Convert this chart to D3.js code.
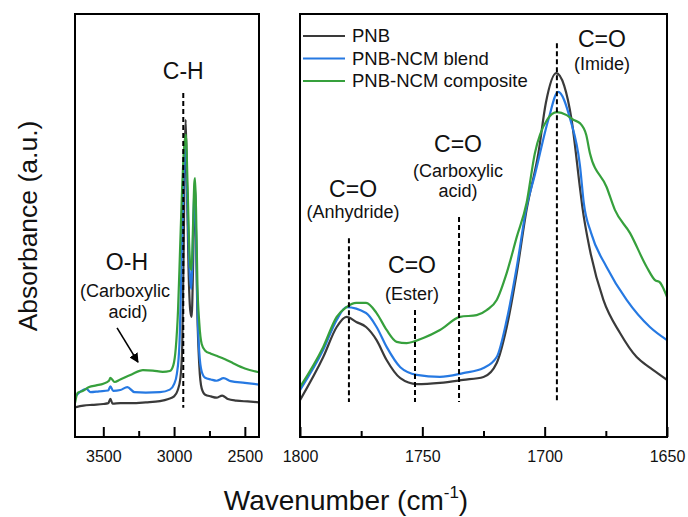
<!DOCTYPE html>
<html>
<head>
<meta charset="utf-8">
<script src="https://cdn.jsdelivr.net/npm/d3@7"></script>
<style>
  body { margin: 0; background: #fff; }
  svg { font-family: 'Liberation Sans', Arial, sans-serif; }
</style>
</head>
<body>
<svg width="688" height="517"></svg>
<script>
'use strict'

const seriesNames = ['PNB', 'PNB-NCM blend', 'PNB-NCM composite']
const seriesColors = ['#3a3a3a', '#2679e2', '#36a03c']

// [wavenumber, absorbance (a.u.)], high wavenumber window
const pnbHigh = [[3700, 7.0], [3640, 7.4], [3580, 7.6], [3500, 7.8], [3465, 8.0], [3450, 9.0], [3435, 7.9], [3380, 8.0], [3300, 8.0], [3200, 8.2], [3100, 8.5], [3040, 9.0], [3000, 9.6], [2975, 11], [2955, 14], [2942, 22], [2932, 45], [2924, 68], [2918, 75], [2910, 62], [2898, 40], [2886, 30], [2876, 28.4], [2866, 40], [2858, 55], [2853, 60], [2846, 50], [2836, 30], [2822, 17], [2805, 11.5], [2780, 10], [2740, 9.6], [2700, 9.3], [2660, 9.8], [2620, 9.0], [2560, 8.6], [2480, 8.4], [2400, 8.2]]
const blendHigh = [[3700, 9.5], [3660, 10.8], [3620, 11.4], [3590, 10.6], [3530, 10.8], [3465, 11], [3450, 12], [3430, 10.9], [3380, 11.1], [3330, 11.8], [3280, 10.6], [3200, 10.5], [3100, 10.6], [3030, 11.2], [3000, 12.5], [2980, 15], [2962, 22], [2948, 40], [2935, 58], [2925, 68], [2917, 70], [2908, 58], [2896, 44], [2886, 37], [2878, 35], [2868, 45], [2858, 57], [2853, 59.5], [2846, 50], [2836, 32], [2822, 20], [2805, 15.5], [2780, 14], [2740, 13.6], [2700, 13.3], [2650, 13.9], [2600, 13.2], [2500, 12.8], [2400, 12.4]]
const compositeHigh = [[3700, 8.0], [3680, 10.5], [3650, 10.8], [3600, 11.8], [3550, 12.2], [3500, 12.6], [3460, 13.3], [3450, 14], [3420, 13.0], [3380, 13.6], [3300, 14.8], [3220, 15.8], [3150, 15.7], [3080, 15.4], [3030, 15.6], [3005, 17], [2988, 21], [2972, 30], [2958, 44], [2944, 58], [2930, 68], [2917, 71.5], [2905, 60], [2894, 46], [2884, 40], [2876, 39.5], [2866, 50], [2857, 60], [2852, 61.2], [2845, 54], [2835, 36], [2822, 27], [2805, 22], [2780, 20.4], [2740, 19.7], [2700, 19.2], [2640, 18.4], [2580, 17.4], [2500, 16.2], [2400, 15.3]]

// carbonyl window
const pnbLow = [[1800, 8.7], [1790.5, 18.9], [1785, 26.0], [1781, 28.4], [1777, 27.2], [1773, 26.0], [1768.7, 22.9], [1764.6, 18.2], [1759, 13.9], [1752.3, 12.5], [1742.8, 12.8], [1733.3, 13.5], [1725, 14.2], [1719.6, 17.5], [1715.5, 26.0], [1711.4, 38.8], [1707.4, 53.7], [1702.6, 67], [1699.5, 79], [1695.3, 86], [1692, 83], [1689, 75], [1685.6, 59], [1684.6, 54.4], [1681.5, 44.2], [1676, 32.4], [1669.2, 24.6], [1662.4, 18.9], [1657, 16.4], [1655.6, 15.8], [1650, 13.5]]
const blendLow = [[1800, 11.1], [1790.5, 20.6], [1785, 27.7], [1781, 30.7], [1773, 29.3], [1768.7, 26.0], [1764.6, 21.3], [1759, 16.5], [1752.3, 14.7], [1742.8, 14.2], [1733.3, 15.1], [1725, 16.3], [1719.6, 18.9], [1715.5, 27.7], [1711.4, 40.2], [1707.4, 54.4], [1704, 62], [1698.5, 75], [1694.5, 81.6], [1689.5, 75], [1685.6, 64.3], [1684, 55.3], [1681, 48.2], [1674.7, 40.2], [1666.5, 32.4], [1657, 26.0], [1650, 22.9]]
const compositeLow = [[1800, 11.8], [1790.5, 21.3], [1785, 28.4], [1781, 30.7], [1777, 31.7], [1773, 31.7], [1768.7, 29.3], [1764.6, 25.3], [1760.5, 22.5], [1756.4, 22.2], [1749.6, 23.4], [1742.8, 25.3], [1734.6, 28.4], [1727.8, 28.8], [1723.7, 30.0], [1719.6, 32.4], [1715.5, 38.8], [1711.4, 47.3], [1707.4, 55.3], [1704, 67.1], [1699, 75], [1695, 76.8], [1691, 76.1], [1688.3, 75], [1685.6, 74.2], [1683, 71.4], [1681.5, 67.1], [1674.7, 59.1], [1671.3, 53.7], [1665.1, 48.2], [1658.3, 40.2], [1654.9, 37.1], [1653, 36.6], [1650, 33.1]]

const highTicks = [3500, 3000, 2500]
const highMinorTicks = [3250, 2750]
const lowTicks = [1800, 1750, 1700, 1650]
const lowMinorTicks = [1775, 1725, 1675]

const highPeaks = [2935]
const lowPeaks = [1780, 1753, 1735, 1695]

const svg = d3.select('svg')

const plotTop = 14,
  plotBottom = 437

const yScale = d3.scaleLinear().domain([0, 100]).range([plotBottom, plotTop])

const xHigh = d3.scaleLinear().domain([3700, 2400]).range([75, 259])
const xLow = d3.scaleLinear().domain([1800, 1650]).range([300, 667])

function drawPanel(id, x, series, ticks, minorTicks) {
  const [x0, x1] = x.range()
  const g = svg.append('g').attr('class', id)

  g.append('clipPath')
    .attr('id', 'clip-' + id)
    .append('rect')
    .attr('x', x0)
    .attr('y', plotTop)
    .attr('width', x1 - x0)
    .attr('height', plotBottom - plotTop)

  const line = d3
    .line()
    .x(d => x(d[0]))
    .y(d => yScale(d[1]))
    .curve(d3.curveMonotoneX)

  g.append('g')
    .attr('clip-path', 'url(#clip-' + id + ')')
    .selectAll('path')
    .data(series)
    .join('path')
    .attr('d', d => line(d))
    .attr('fill', 'none')
    .attr('stroke', (d, i) => seriesColors[i])
    .attr('stroke-width', 2.2)
    .attr('stroke-linejoin', 'round')

  const axis = g
    .append('g')
    .attr('transform', 'translate(0,' + plotBottom + ')')
    .call(
      d3
        .axisBottom(x)
        .tickValues(ticks)
        .tickSizeInner(-10)
        .tickSizeOuter(0)
        .tickPadding(14)
        .tickFormat(d3.format('d'))
    )
  axis.select('.domain').remove()
  axis.selectAll('line').attr('stroke', '#000').attr('stroke-width', 2)
  axis.selectAll('text').attr('font-size', 16).attr('fill', '#111')

  const minor = g
    .append('g')
    .attr('transform', 'translate(0,' + plotBottom + ')')
    .call(
      d3
        .axisBottom(x)
        .tickValues(minorTicks)
        .tickSizeInner(-6)
        .tickSizeOuter(0)
        .tickFormat('')
    )
  minor.select('.domain').remove()
  minor.selectAll('line').attr('stroke', '#000').attr('stroke-width', 2)

  g.append('rect')
    .attr('x', x0)
    .attr('y', plotTop)
    .attr('width', x1 - x0)
    .attr('height', plotBottom - plotTop)
    .attr('fill', 'none')
    .attr('stroke', '#000')
    .attr('stroke-width', 2)

  return g
}

const left = drawPanel('high', xHigh, [pnbHigh, blendHigh, compositeHigh], highTicks, highMinorTicks)
const right = drawPanel('low', xLow, [pnbLow, blendLow, compositeLow], lowTicks, lowMinorTicks)

function dashed(g, x, wn, from, to) {
  g.append('line')
    .attr('x1', x(wn))
    .attr('x2', x(wn))
    .attr('y1', yScale(from))
    .attr('y2', yScale(to))
    .attr('stroke', '#000')
    .attr('stroke-width', 2)
    .attr('stroke-dasharray', '5,3')
}

function label(g, x, wn, v, text, size) {
  g.append('text')
    .attr('x', x(wn))
    .attr('y', yScale(v))
    .attr('text-anchor', 'middle')
    .attr('font-size', size)
    .attr('fill', '#111')
    .text(text)
}

// C-H stretch
dashed(left, xHigh, highPeaks[0], 81.3, 6.9)
label(left, xHigh, highPeaks[0], 84.6, 'C-H', 23)

label(left, xHigh, 3333, 39.5, 'O-H', 23)
label(left, xHigh, 3347, 33.1, '(Carboxylic', 18)
label(left, xHigh, 3325, 28.1, 'acid)', 18)

svg
  .append('defs')
  .append('marker')
  .attr('id', 'arrow')
  .attr('viewBox', '0 0 10 10')
  .attr('refX', 9)
  .attr('refY', 5)
  .attr('markerWidth', 6)
  .attr('markerHeight', 6)
  .attr('orient', 'auto')
  .append('path')
  .attr('d', 'M0,0L10,5L0,10z')
  .attr('fill', '#000')

left
  .append('line')
  .attr('x1', xHigh(3403))
  .attr('y1', yScale(25.8))
  .attr('x2', xHigh(3255))
  .attr('y2', yScale(17.7))
  .attr('stroke', '#000')
  .attr('stroke-width', 1.6)
  .attr('marker-end', 'url(#arrow)')

// carbonyl bands
const bandTops = [47, 30, 52, 93.1]
lowPeaks.forEach((wn, i) => dashed(right, xLow, wn, bandTops[i], 8.3))

label(right, xLow, 1676.6, 92.2, 'C=O', 23)
label(right, xLow, 1676.6, 86.8, '(Imide)', 18)
label(right, xLow, 1735.4, 67.4, 'C=O', 23)
label(right, xLow, 1735.4, 61.5, '(Carboxylic', 18)
label(right, xLow, 1735.4, 56.7, 'acid)', 18)
label(right, xLow, 1778.3, 56.7, 'C=O', 23)
label(right, xLow, 1778.3, 51.8, '(Anhydride)', 18)
label(right, xLow, 1754.2, 38.8, 'C=O', 23)
label(right, xLow, 1754.2, 32.4, '(Ester)', 18)

// legend
const legend = svg
  .append('g')
  .selectAll('g')
  .data(seriesNames)
  .join('g')
  .attr('transform', (d, i) => 'translate(303,' + (36 + i * 22.5) + ')')

legend
  .append('line')
  .attr('x1', 0)
  .attr('x2', 42)
  .attr('stroke', (d, i) => seriesColors[i])
  .attr('stroke-width', 2.2)

legend
  .append('text')
  .attr('x', 49)
  .attr('dy', '0.35em')
  .attr('font-size', 18.5)
  .attr('fill', '#111')
  .text(d => d)

// axis titles
svg
  .append('text')
  .attr('transform', 'translate(37,226) rotate(-90)')
  .attr('text-anchor', 'middle')
  .attr('font-size', 26.5)
  .attr('fill', '#111')
  .text('Absorbance (a.u.)')

const xTitle = svg
  .append('text')
  .attr('x', 346)
  .attr('y', 510)
  .attr('text-anchor', 'middle')
  .attr('font-size', 28)
  .attr('fill', '#111')

xTitle.append('tspan').text('Wavenumber (cm')
xTitle
  .append('tspan')
  .attr('font-size', 17)
  .attr('dy', -12)
  .text('-1')
xTitle
  .append('tspan')
  .attr('dy', 12)
  .text(')')
</script>
</body>
</html>
